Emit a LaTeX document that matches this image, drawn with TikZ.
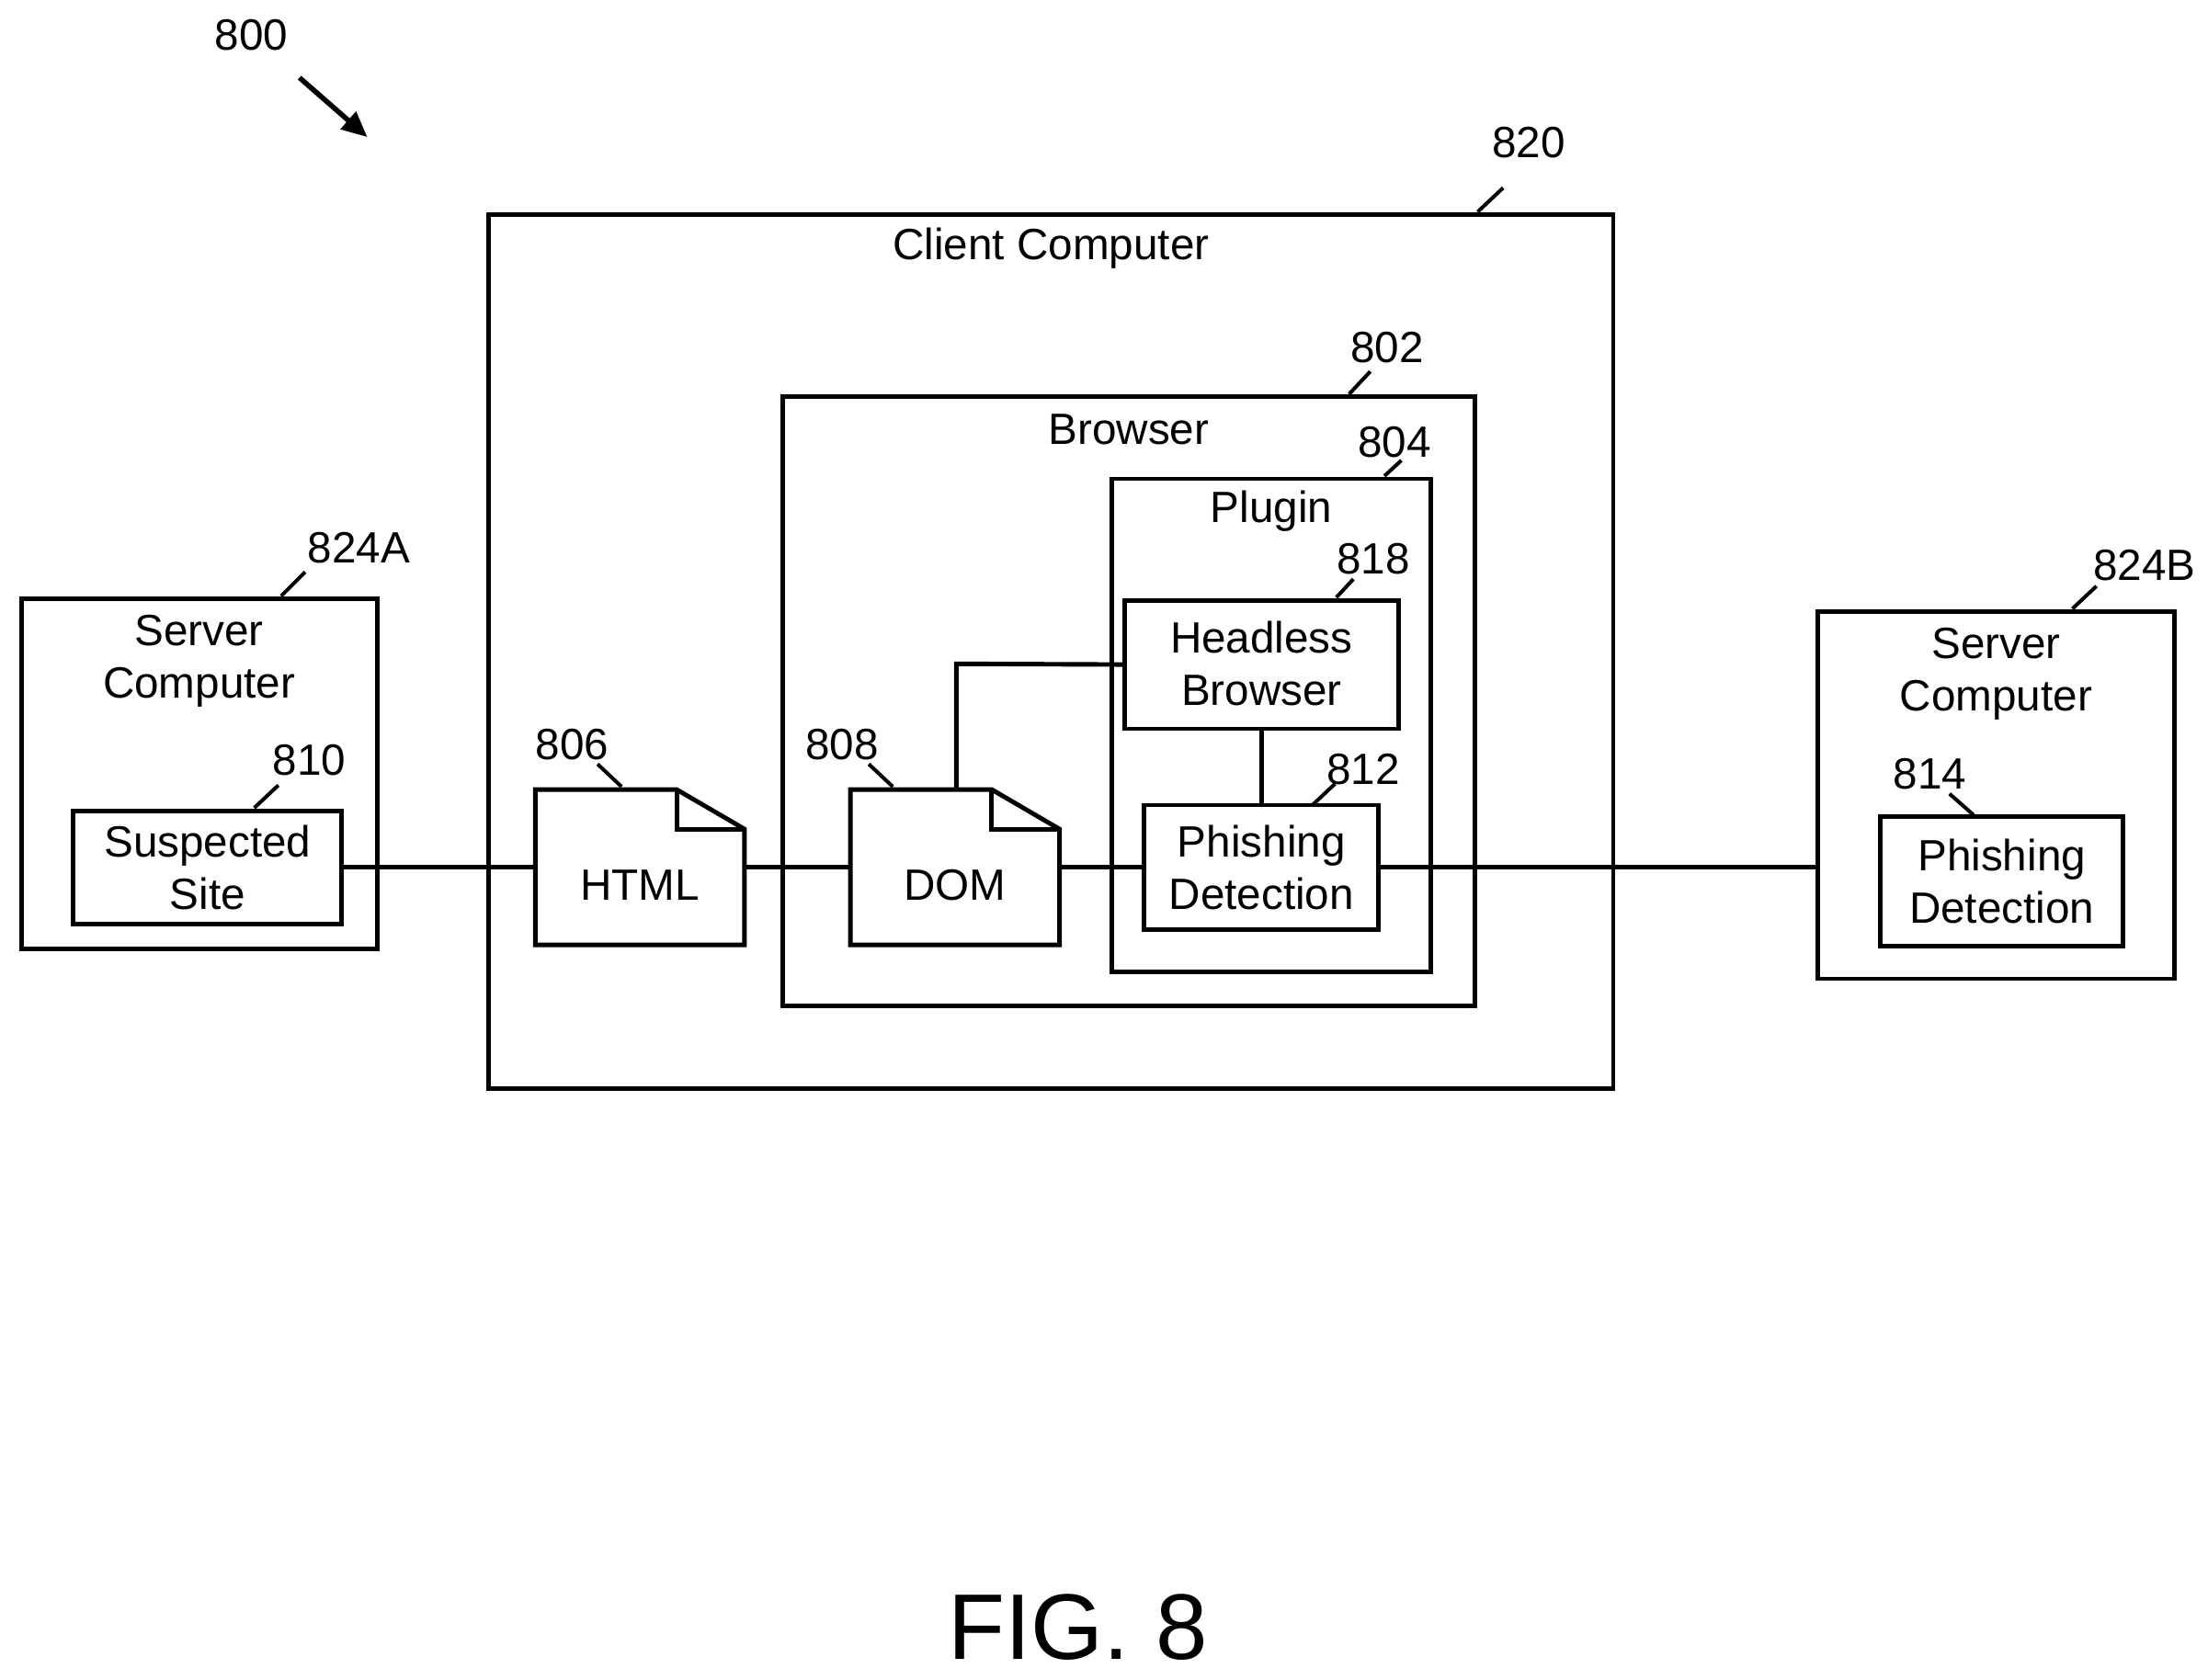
\documentclass[tikz,border=0pt]{standalone}
\usepackage{fontspec}
\setmainfont{Liberation Sans}
\usetikzlibrary{fit,arrows.meta}
\begin{document}
\begin{tikzpicture}[x=0.5pt,y=-0.5pt,
  box/.style={draw,line width=1.6pt,inner sep=0pt},
  lbl/.style={font=\fontsize{15.5}{18.5}\selectfont,inner sep=0pt,align=center},
  ln/.style={line width=1.6pt},
  ld/.style={line width=1.3pt}]
\useasboundingbox (0,0) rectangle (1563,1189);
% labels
\node[lbl] (n800) at (178,25) {800};
\coordinate (a1) at (212,55); \coordinate (a2) at (260,97);
\draw[line width=1.8pt,-{Triangle[length=9pt,width=8pt]}] (a1) -- (a2);
% client
\node[box,fit={(346,152)(1142,771)}] (client) {};
\node[lbl] at (744,176) {Client Computer};
\node[lbl] (n820) at (1082,101) {820};
\draw[ld] (1046,150) -- (1064,133);
% browser
\node[box,fit={(554,281)(1044,712)}] (browser) {};
\node[lbl] at (799,304) {Browser};
\node[lbl] (n802) at (982,246) {802};
\draw[ld] (955,279) -- (970,263);
% plugin
\node[box,fit={(787,339)(1013,688)}] (plugin) {};
\node[lbl] at (900,362) {Plugin};
\node[lbl] (n804) at (987,313) {804};
\draw[ld] (980,337) -- (992,326);
% headless
\node[box,fit={(796,425)(990,516)}] (head) {};
\node[lbl] at (893,470) {Headless\\Browser};
\node[lbl] (n818) at (972,396) {818};
\draw[ld] (946,423) -- (958,410);
% phishing 812
\node[box,fit={(810,570)(976,658)}] (phish) {};
\node[lbl] at (893,614) {Phishing\\Detection};
\node[lbl] (n812) at (965,545) {812};
\draw[ld] (929,570) -- (945,555);
\draw[ln] (head.south) -- (phish.north);
% documents
\foreach \x/\t/\n in {379/HTML/html,602/DOM/dom}{
  \draw[ln,line join=miter] (\x,559) -- (\x+100,559) -- (\x+148,587) -- (\x+148,669) -- (\x,669) -- cycle;
  \draw[ln] (\x+100,559) -- (\x+100,587) -- (\x+148,587);
  \node[lbl] (\n) at (\x+74,627) {\t};
}
\coordinate (htmlL) at (379,614); \coordinate (htmlR) at (527,614);
\coordinate (domL) at (602,614); \coordinate (domR) at (750,614);
\coordinate (domT) at (677,559);
\node[lbl] at (405,527) {806}; \draw[ld] (423,541) -- (440,557);
\node[lbl] at (596,527) {808}; \draw[ld] (615,541) -- (632,557);
\draw[ln] (domT) -- (677,470) -- (head.west);
% server A
\node[box,fit={(15,424)(267,672)}] (srvA) {};
\node[lbl] at (141,468) {Server\\Computer};
\node[lbl] at (254,388) {824A}; \draw[ld] (199,422) -- (216,405);
\node[box,fit={(52,574)(242,654)}] (susp) {};
\node[lbl] at (147,614) {Suspected\\Site};
\node[lbl] at (219,538) {810}; \draw[ld] (180,572) -- (197,556);
% server B
\node[box,fit={(1287,433)(1539,693)}] (srvB) {};
\node[lbl] at (1413,477) {Server\\Computer};
\node[lbl] at (1518,400) {824B}; \draw[ld] (1467,431) -- (1484,415);
\node[box,fit={(1331,578)(1503,670)}] (phishB) {};
\node[lbl] at (1417,624) {Phishing\\Detection};
\node[lbl] at (1366,548) {814}; \draw[ld] (1380,562) -- (1397,577);
% connections
\coordinate (srvBL) at (1287,614);
\draw[ln] (susp.east) -- (htmlL);
\draw[ln] (htmlR) -- (domL);
\draw[ln] (domR) -- (phish.west);
\draw[ln] (phish.east) -- (srvBL);
\node[font=\fontsize{33}{40}\selectfont,inner sep=0pt] at (763,1152) {FIG. 8};
\end{tikzpicture}
\end{document}
